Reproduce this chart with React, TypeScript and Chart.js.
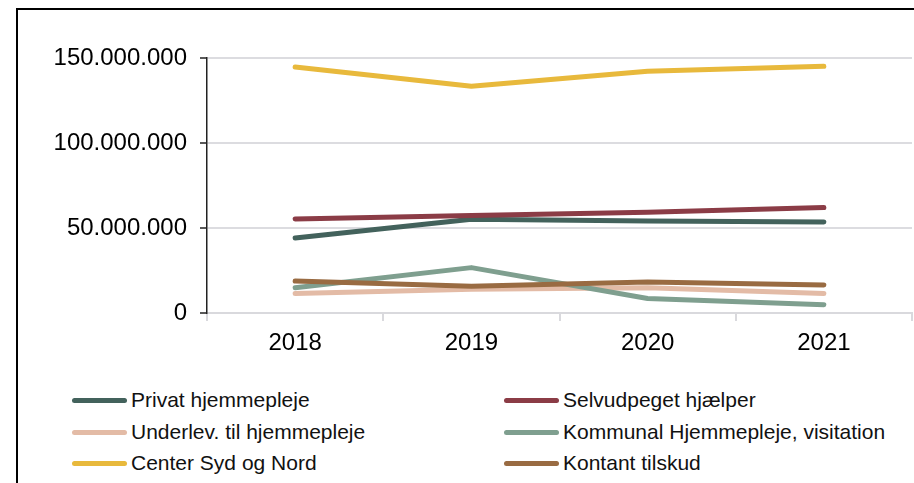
import React, { useEffect, useRef } from "react";
import { Chart, registerables } from "chart.js";

Chart.register(...registerables);

const years = ["2018", "2019", "2020", "2021"];

const privatHjemmepleje = [44100000, 55100000, 54100000, 53500000];
const selvudpegetHjaelper = [55300000, 57300000, 59200000, 62000000];
const underlevHjemmepleje = [11400000, 13900000, 14900000, 11400000];
const kommunalHjemmepleje = [14900000, 26700000, 8500000, 4900000];
const centerSydNord = [144700000, 133400000, 142200000, 145100000];
const kontantTilskud = [18800000, 15700000, 18200000, 16500000];

const yTicks = [0, 50000000, 100000000, 150000000];

const seriesNames = [
  "Privat hjemmepleje",
  "Selvudpeget hjælper",
  "Underlev. til hjemmepleje",
  "Kommunal Hjemmepleje, visitation",
  "Center Syd og Nord",
  "Kontant tilskud",
];
const seriesColors = ["#43625c", "#8b3c46", "#e3bba6", "#7f9f8f", "#e8b93c", "#996b42"];
const seriesValues = [
  privatHjemmepleje,
  selvudpegetHjaelper,
  underlevHjemmepleje,
  kommunalHjemmepleje,
  centerSydNord,
  kontantTilskud,
];
// drawing order (lower = on top)
const seriesOrder = [3, 1, 5, 4, 0, 2];

const FONT = "'Liberation Sans', Arial, sans-serif";

function fmt(v: number) {
  return Math.round(v).toString().replace(/\B(?=(\d{3})+(?!\d))/g, ".");
}

export default function App() {
  const ref = useRef<HTMLCanvasElement | null>(null);

  useEffect(() => {
    if (!ref.current) return;
    const chart = new Chart(ref.current, {
      type: "line",
      data: {
        labels: years,
        datasets: seriesNames.map((name, i) => ({
          label: name,
          data: seriesValues[i],
          borderColor: seriesColors[i],
          backgroundColor: seriesColors[i],
          borderWidth: 5,
          borderCapStyle: "round" as const,
          borderJoinStyle: "round" as const,
          pointRadius: 0,
          tension: 0,
          order: seriesOrder[i],
        })),
      },
      options: {
        responsive: false,
        animation: false,
        layout: { padding: { top: 58, right: 2, left: 0, bottom: 0 } },
        plugins: { legend: { display: false }, tooltip: { enabled: false }, title: { display: false } },
        scales: {
          x: {
            offset: true,
            afterFit: (s: any) => {
              s.height = 59;
            },
            grid: {
              offset: true,
              drawOnChartArea: false,
              drawTicks: true,
              tickLength: 8,
              color: "#d9d9dd",
              lineWidth: 2,
            },
            border: { display: true, color: "#d9d9dd", width: 2 },
            ticks: {
              padding: 8,
              color: "#000",
              font: { family: FONT, size: 24 },
              maxRotation: 0,
            },
          },
          y: {
            min: 0,
            max: 150000000,
            afterFit: (s: any) => {
              s.width = 207;
            },
            afterBuildTicks: (s: any) => {
              s.ticks = yTicks.map((v) => ({ value: v }));
            },
            grid: {
              color: "#dcdce0",
              lineWidth: 2,
              drawTicks: true,
              tickLength: 7,
              tickColor: "#222",
              tickWidth: 1.5,
            },
            border: { display: true, color: "#222", width: 1.5 },
            ticks: {
              padding: 13,
              color: "#000",
              font: { family: FONT, size: 24 },
              callback: (v: any) => fmt(Number(v)),
            },
          },
        },
      },
    });
    return () => chart.destroy();
  }, []);

  const legendRows = [
    [0, 1],
    [2, 3],
    [4, 5],
  ];
  const rowY = [400, 432, 463];
  const colLine = [72, 504];

  return (
    <div style={{ position: "absolute", left: 0, top: 0, width: 914, height: 483, overflow: "hidden", background: "#fff" }}>
      <div
        style={{
          position: "absolute",
          left: 16,
          top: 8,
          width: 910,
          height: 490,
          borderLeft: "2px solid #000",
          borderTop: "2px solid #000",
          boxSizing: "border-box",
        }}
      />
      <canvas ref={ref} width={914} height={372} style={{ position: "absolute", left: 0, top: 0, width: 914, height: 372 }} />
      {legendRows.map((row, r) =>
        row.map((idx, c) => (
          <div
            key={idx}
            style={{
              position: "absolute",
              left: colLine[c],
              top: rowY[r] - 14,
              height: 28,
              display: "flex",
              alignItems: "center",
              whiteSpace: "nowrap",
              fontFamily: FONT,
              fontSize: 21,
              color: "#111",
            }}
          >
            <span
              style={{
                display: "inline-block",
                width: 55,
                height: 5,
                borderRadius: 3,
                background: seriesColors[idx],
                marginRight: 4,
              }}
            />
            <span>{seriesNames[idx]}</span>
          </div>
        ))
      )}
    </div>
  );
}
